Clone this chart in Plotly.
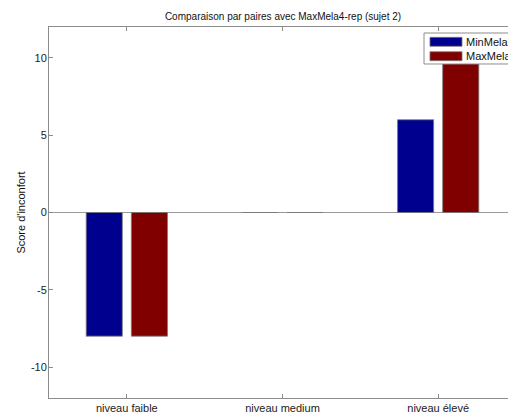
import plotly.graph_objects as go

categories = ["niveau faible", "niveau medium", "niveau élevé"]
series_names = ["MinMela", "MaxMela"]
min_mela = [-8, 0, 6]
max_mela = [-8, 0, 10]
y_ticks = [-10, -5, 0, 5, 10]
colors = ["#00008f", "#800000"]

FONT = "Liberation Sans, Arial, sans-serif"
AX = "#8c8c8c"

fig = go.Figure()
for name, vals, col in zip(series_names, [min_mela, max_mela], colors):
    fig.add_bar(x=[1, 2, 3], y=vals, name=name, showlegend=False,
                marker=dict(color=col, line=dict(color="#7a7a7a", width=0.8)))

# custom legend (MATLAB style) in paper coordinates
fig.add_shape(type="rect", xref="paper", yref="paper", x0=0.803, x1=1.02, y0=0.9003, y1=0.9838,
              line=dict(color="#8c8c8c", width=1), fillcolor="white", layer="above")
sw_y = [(0.948, 0.9722), (0.9092, 0.9334)]
tx_y = [0.9596, 0.9218]
for name, col, (y0, y1), ty in zip(series_names, colors, sw_y, tx_y):
    fig.add_shape(type="rect", xref="paper", yref="paper", x0=0.8158, x1=0.8844, y0=y0, y1=y1,
                  line=dict(color="#7a7a7a", width=0.8), fillcolor=col, layer="above")
    fig.add_annotation(text=name, xref="paper", yref="paper", x=0.889, y=ty,
                       xanchor="left", yanchor="middle", showarrow=False,
                       font=dict(family=FONT, size=11, color="#111"))

fig.update_layout(
    width=508, height=411,
    margin=dict(l=41, r=0, t=19, b=21, autoexpand=False),
    paper_bgcolor="white", plot_bgcolor="white",
    barmode="group", bargap=0.42, bargroupgap=0.2,
    font=dict(family=FONT, size=11, color="#222"),
    title=dict(text="Comparaison par paires avec MaxMela4-rep (sujet 2)",
               x=(283 - 8) / 508, xanchor="center", y=1 - 8 / 411, yanchor="middle",
               xref="container", yref="container",
               font=dict(family=FONT, size=10, color="#111")),
    showlegend=False,
)
fig.update_xaxes(
    range=[0.5, 3.5], tickmode="array", tickvals=[1, 2, 3], ticktext=categories,
    ticks="inside", ticklen=4, tickcolor=AX, showline=True, linecolor=AX, linewidth=1,
    mirror="ticks", showgrid=False, zeroline=False, automargin=False,
    tickfont=dict(family=FONT, size=11, color="#222"),
)
fig.update_yaxes(
    range=[-12, 12], tickmode="array", tickvals=y_ticks, ticktext=[str(v) for v in y_ticks],
    ticks="inside", ticklen=4, tickcolor=AX, showline=True, linecolor=AX, linewidth=1,
    mirror="ticks", showgrid=False, zeroline=True, zerolinecolor="#9a9a9a", zerolinewidth=1,
    automargin=False, ticklabelstandoff=-1,
    title=dict(text="Score d'inconfort", standoff=3, font=dict(family=FONT, size=11, color="#111")),
    tickfont=dict(family=FONT, size=11, color="#222"),
)

fig.write_html("out.html")
